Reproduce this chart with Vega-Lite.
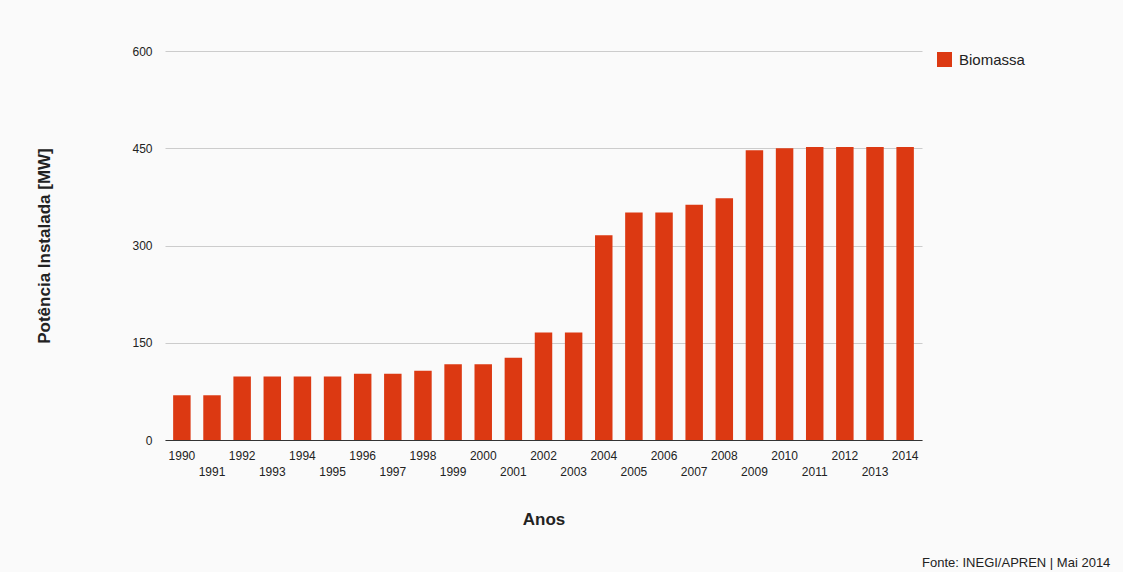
{
  "$schema": "https://vega.github.io/schema/vega-lite/v6.json",
  "autosize": "none",
  "width": 757,
  "height": 389,
  "padding": {"left": 165, "top": 51, "right": 201, "bottom": 132},
  "background": "#fafafa",
  "config": {
    "view": {"stroke": null},
    "font": "Liberation Sans"
  },
  "title": {
    "text": "Fonte: INEGI/APREN | Mai 2014",
    "orient": "bottom",
    "anchor": "end",
    "align": "left",
    "frame": "group",
    "fontSize": 13,
    "fontWeight": "normal",
    "color": "#222222",
    "offset": 43,
    "baseline": "bottom"
  },
  "data": {
    "values": [
      {"Ano": 1990, "Potencia": 69, "Fonte": "Biomassa"},
      {"Ano": 1991, "Potencia": 69, "Fonte": "Biomassa"},
      {"Ano": 1992, "Potencia": 98, "Fonte": "Biomassa"},
      {"Ano": 1993, "Potencia": 98, "Fonte": "Biomassa"},
      {"Ano": 1994, "Potencia": 98, "Fonte": "Biomassa"},
      {"Ano": 1995, "Potencia": 98, "Fonte": "Biomassa"},
      {"Ano": 1996, "Potencia": 102, "Fonte": "Biomassa"},
      {"Ano": 1997, "Potencia": 102, "Fonte": "Biomassa"},
      {"Ano": 1998, "Potencia": 107, "Fonte": "Biomassa"},
      {"Ano": 1999, "Potencia": 117, "Fonte": "Biomassa"},
      {"Ano": 2000, "Potencia": 117, "Fonte": "Biomassa"},
      {"Ano": 2001, "Potencia": 127, "Fonte": "Biomassa"},
      {"Ano": 2002, "Potencia": 166, "Fonte": "Biomassa"},
      {"Ano": 2003, "Potencia": 166, "Fonte": "Biomassa"},
      {"Ano": 2004, "Potencia": 316, "Fonte": "Biomassa"},
      {"Ano": 2005, "Potencia": 351, "Fonte": "Biomassa"},
      {"Ano": 2006, "Potencia": 351, "Fonte": "Biomassa"},
      {"Ano": 2007, "Potencia": 363, "Fonte": "Biomassa"},
      {"Ano": 2008, "Potencia": 373, "Fonte": "Biomassa"},
      {"Ano": 2009, "Potencia": 447, "Fonte": "Biomassa"},
      {"Ano": 2010, "Potencia": 450, "Fonte": "Biomassa"},
      {"Ano": 2011, "Potencia": 452, "Fonte": "Biomassa"},
      {"Ano": 2012, "Potencia": 452, "Fonte": "Biomassa"},
      {"Ano": 2013, "Potencia": 452, "Fonte": "Biomassa"},
      {"Ano": 2014, "Potencia": 452, "Fonte": "Biomassa"}
    ]
  },
  "mark": {"type": "bar"},
  "encoding": {
    "x": {
      "field": "Ano",
      "type": "ordinal",
      "title": "Anos",
      "scale": {"paddingInner": 0.42, "paddingOuter": 0.27},
      "axis": {
        "labelAngle": 0,
        "labelExpr": "datum.value % 2 == 1 ? ['', datum.label] : datum.label",
        "labelLineHeight": 16,
        "labelFontSize": 12,
        "labelColor": "#222222",
        "labelPadding": 10,
        "ticks": false,
        "domainColor": "#333333",
        "domainWidth": 1,
        "titleFontSize": 17,
        "titleFontWeight": "bold",
        "titleColor": "#222222",
        "titlePadding": 34
      }
    },
    "y": {
      "field": "Potencia",
      "type": "quantitative",
      "title": "Potência Instalada [MW]",
      "scale": {"domain": [0, 600]},
      "axis": {
        "values": [0, 150, 300, 450, 600],
        "domain": false,
        "ticks": false,
        "labelFontSize": 12,
        "labelColor": "#222222",
        "labelPadding": 13,
        "gridColor": "#cccccc",
        "gridWidth": 1,
        "titleFontSize": 17,
        "titleFontWeight": "bold",
        "titleColor": "#222222",
        "titlePadding": 78
      }
    },
    "color": {
      "field": "Fonte",
      "type": "nominal",
      "scale": {"range": ["#dc3912"]},
      "legend": {
        "title": null,
        "orient": "none",
        "legendX": 772,
        "legendY": 1,
        "symbolType": "square",
        "symbolSize": 225,
        "symbolStrokeWidth": 0,
        "symbolOpacity": 1,
        "labelFontSize": 15,
        "labelColor": "#222222",
        "labelOffset": 7
      }
    }
  }
}
